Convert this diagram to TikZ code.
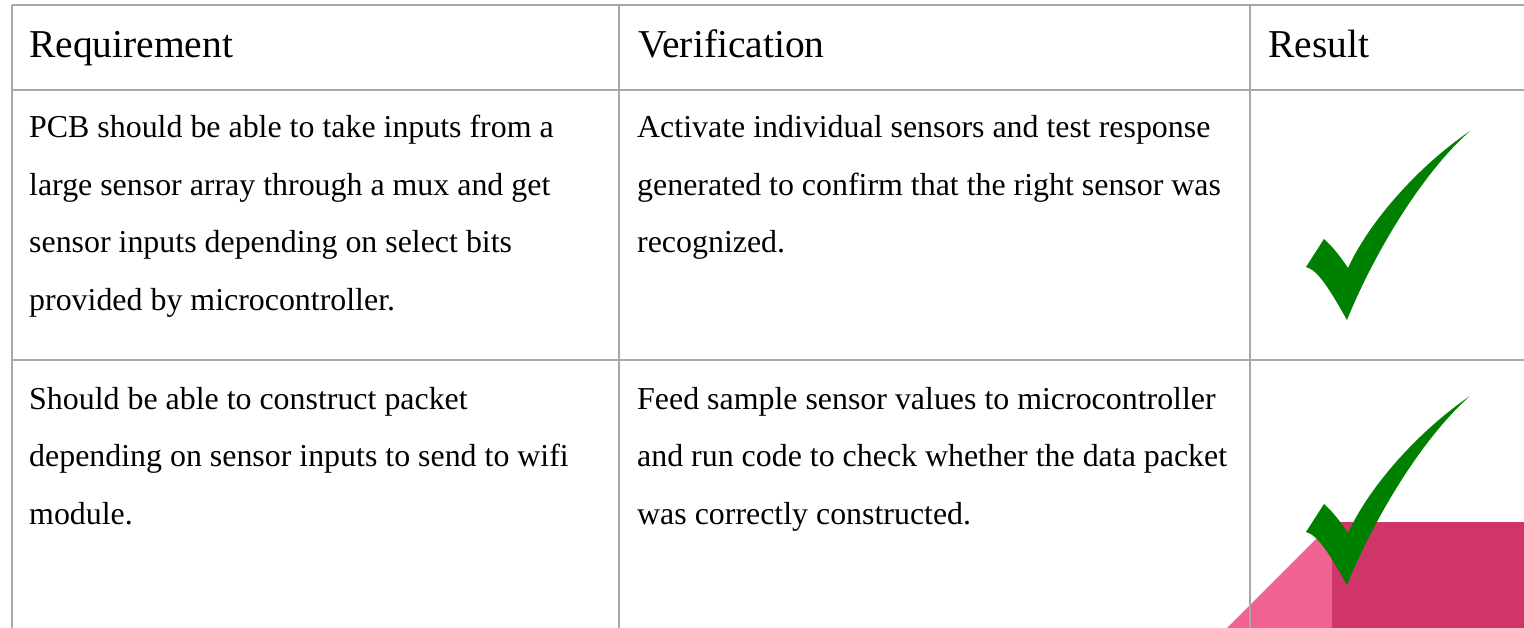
\documentclass[tikz,border=0pt]{standalone}
\usepackage{fontspec}
\setmainfont{Liberation Serif}
\newfontfamily\headfont{Liberation Serif}
\definecolor{gridgray}{HTML}{A8A8A8}
\definecolor{checkgreen}{HTML}{008000}
\definecolor{pinklight}{HTML}{F06292}
\definecolor{pinkdark}{HTML}{D0356A}
\tikzset{
  gridline/.style={draw=gridgray,line width=2pt},
  hdr/.style={anchor=base west,inner sep=0pt,font=\headfont\fontsize{39.5}{46}\selectfont},
  body/.style={anchor=base west,inner sep=0pt,font=\fontsize{31.9}{38}\selectfont},
  checkshape/.style={fill=checkgreen,draw=none}
}
\begin{document}
\begin{tikzpicture}[x=1pt,y=-1pt]
\useasboundingbox (0,0) rectangle (1524,628);
\fill[white] (0,0) rectangle (1524,628);
% pink decoration
\fill[pinklight] (1227,628) -- (1333,522) -- (1333,628) -- cycle;
\fill[pinkdark] (1332,522) rectangle (1524,628);
% grid
\coordinate (tl) at (11.5,5);
\coordinate (tr) at (1524,5);
\coordinate (h1l) at (11.5,90);
\coordinate (h1r) at (1524,90);
\coordinate (h2l) at (11.5,360);
\coordinate (h2r) at (1524,360);
\coordinate (bl) at (11.5,628);
\coordinate (c1t) at (619,5);
\coordinate (c1b) at (619,628);
\coordinate (c2t) at (1250,5);
\coordinate (c2b) at (1250,628);
\draw[gridline] (tl) -- (tr);
\draw[gridline] (h1l) -- (h1r);
\draw[gridline] (h2l) -- (h2r);
\draw[gridline] (tl) -- (bl);
\draw[gridline] (c1t) -- (c1b);
\draw[gridline] (c2t) -- (c2b);
% header
\node[hdr] (hreq) at (29,58) {Requirement};
\node[hdr] (hver) at (638,58) {Verification};
\node[hdr] (hres) at (1268,58) {Result};
% row 1
\node[body] (r1a1) at (29,138) {PCB should be able to take inputs from a};
\node[body] (r1a2) at (29,195.5) {large sensor array through a mux and get};
\node[body] (r1a3) at (29,253) {sensor inputs depending on select bits};
\node[body] (r1a4) at (29,310.5) {provided by microcontroller.};
\node[body] (r1b1) at (637,138) {Activate individual sensors and test response};
\node[body] (r1b2) at (637,195.5) {generated to confirm that the right sensor was};
\node[body] (r1b3) at (637,253) {recognized.};
% row 2
\node[body] (r2a1) at (29,409) {Should be able to construct packet};
\node[body] (r2a2) at (29,466.5) {depending on sensor inputs to send to wifi};
\node[body] (r2a3) at (29,524) {module.};
\node[body] (r2b1) at (637,409) {Feed sample sensor values to microcontroller};
\node[body] (r2b2) at (637,466.5) {and run code to check whether the data packet};
\node[body] (r2b3) at (637,524) {was correctly constructed.};
% checkmarks
\foreach \dy in {0,265}{
\begin{scope}[shift={(0,\dy)}]
\fill[checkshape] (1470,131) .. controls (1420,165) and (1370,220) .. (1348,268)
  .. controls (1340,256) and (1332,246) .. (1324,239)
  -- (1306,267)
  .. controls (1318,270) and (1330,290) .. (1347,320)
  .. controls (1372,258) and (1420,175) .. (1470,131) -- cycle;
\end{scope}
}
\end{tikzpicture}
\end{document}
